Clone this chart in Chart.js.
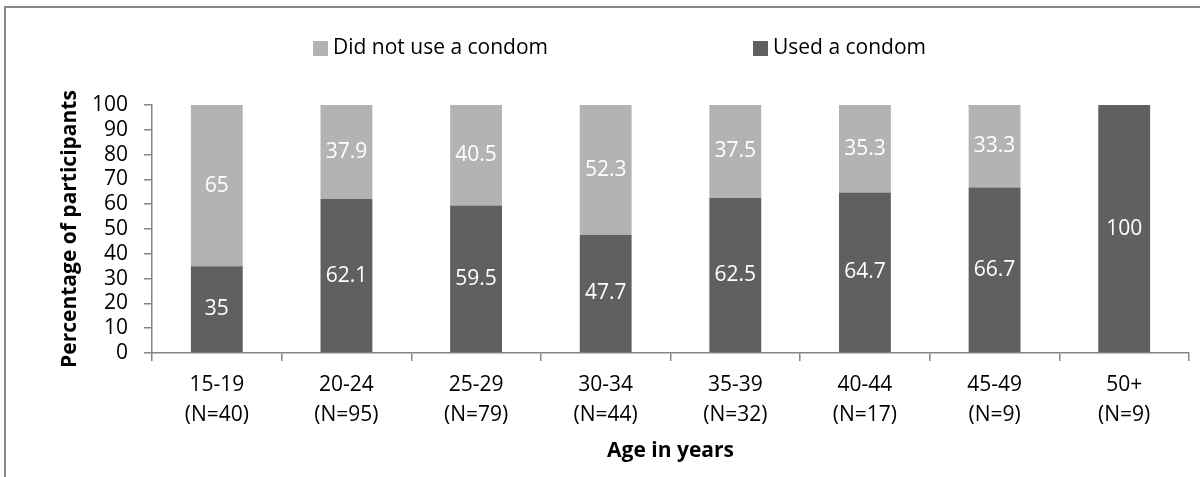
<!DOCTYPE html>
<html>
<head>
<meta charset="utf-8">
<script src="https://cdn.jsdelivr.net/npm/chart.js@4.4.1/dist/chart.umd.min.js"></script>
<style>
    html, body { margin: 0; padding: 0; background: #ffffff; overflow: hidden; }
    #wrap { position: relative; width: 1200px; height: 477px; }
    #frame {
        position: absolute; left: 4px; top: 6px;
        width: 1400px; height: 700px;
        border: 2px solid #868686;
    }
    #chart { position: absolute; left: 0; top: 0; }
</style>
</head>
<body>
<div id="wrap">
    <div id="frame"></div>
    <canvas id="chart" width="1200" height="477"></canvas>
</div>
<script>
// Chart data
const ageGroups = ['15-19', '20-24', '25-29', '30-34', '35-39', '40-44', '45-49', '50+'];
const sampleSizes = ['(N=40)', '(N=95)', '(N=79)', '(N=44)', '(N=32)', '(N=17)', '(N=9)', '(N=9)'];
const usedCondom = [35, 62.1, 59.5, 47.7, 62.5, 64.7, 66.7, 100];
const notUsedCondom = [65, 37.9, 40.5, 52.3, 37.5, 35.3, 33.3, 0];
const yTicks = [0, 10, 20, 30, 40, 50, 60, 70, 80, 90, 100];

const FONT = "'Open Sans', 'Noto Sans', sans-serif";
const FONT_SIZE = 21;
const AXIS_GREY = '#868686';

// Build two-line category labels
const categoryLabels = ageGroups.map((g, i) => [g, sampleSizes[i]]);

// Value labels drawn inside each bar segment
const barValueLabels = {
    id: 'barValueLabels',
    afterDatasetsDraw(chart) {
        const ctx = chart.ctx;
        ctx.save();
        ctx.font = FONT_SIZE + 'px ' + FONT;
        ctx.fillStyle = '#ffffff';
        ctx.textAlign = 'center';
        ctx.textBaseline = 'middle';
        chart.data.datasets.forEach((ds, di) => {
            const meta = chart.getDatasetMeta(di);
            meta.data.forEach((bar, i) => {
                const v = ds.data[i];
                if (!v) return;
                ctx.fillText(String(v), bar.x, (bar.y + bar.base) / 2);
            });
        });
        ctx.restore();
    }
};

// Legend drawn like the original (wide spacing between entries)
const wideLegend = {
    id: 'wideLegend',
    afterDraw(chart) {
        const ctx = chart.ctx;
        const startX = [313, 753];
        const centerY = 48.5;
        const items = chart.data.datasets.slice().reverse();
        ctx.save();
        ctx.font = FONT_SIZE + 'px ' + FONT;
        ctx.textBaseline = 'middle';
        ctx.textAlign = 'left';
        items.forEach((ds, i) => {
            ctx.fillStyle = ds.backgroundColor;
            ctx.fillRect(startX[i], centerY - 7.5, 15, 15);
            ctx.fillStyle = '#000000';
            ctx.fillText(ds.label, startX[i] + 20, centerY);
        });
        ctx.restore();
    }
};

const ctx = document.getElementById('chart');
new Chart(ctx, {
    type: 'bar',
    data: {
        labels: categoryLabels,
        datasets: [{
            label: 'Used a condom',
            data: usedCondom,
            backgroundColor: '#606060',
            categoryPercentage: 1,
            barPercentage: 0.4
        }, {
            label: 'Did not use a condom',
            data: notUsedCondom,
            backgroundColor: '#b3b3b3',
            categoryPercentage: 1,
            barPercentage: 0.4
        }]
    },
    options: {
        responsive: false,
        animation: false,
        layout: {
            padding: { top: 105, right: 11, bottom: 0, left: 0 }
        },
        scales: {
            x: {
                stacked: true,
                grid: {
                    offset: true,
                    drawOnChartArea: false,
                    drawTicks: true,
                    tickLength: 8,
                    color: AXIS_GREY,
                    lineWidth: 1.5
                },
                border: { color: AXIS_GREY, width: 1.5 },
                ticks: {
                    color: '#000000',
                    padding: 9,
                    maxRotation: 0,
                    autoSkip: false,
                    font: { family: FONT, size: FONT_SIZE, lineHeight: 30 / FONT_SIZE }
                },
                title: {
                    display: true,
                    text: 'Age in years',
                    color: '#000000',
                    font: { family: FONT, size: 21, weight: 'bold', lineHeight: 1.2 },
                    padding: { top: 0, bottom: 13 }
                },
                afterFit(scale) { scale.height = 124; }
            },
            y: {
                stacked: true,
                min: 0,
                max: 100,
                afterBuildTicks(scale) {
                    scale.ticks = yTicks.map(v => ({ value: v }));
                },
                grid: {
                    drawOnChartArea: false,
                    drawTicks: true,
                    tickLength: 8,
                    color: AXIS_GREY,
                    lineWidth: 1.5
                },
                border: { color: AXIS_GREY, width: 1.5 },
                ticks: {
                    color: '#000000',
                    padding: 16,
                    autoSkip: false,
                    font: { family: FONT, size: FONT_SIZE }
                },
                title: {
                    display: true,
                    text: 'Percentage of participants',
                    color: '#000000',
                    font: { family: FONT, size: 21, weight: 'bold', lineHeight: 1.2 },
                    padding: { top: 57, bottom: 0 }
                },
                afterFit(scale) { scale.width = 152; }
            }
        },
        plugins: {
            legend: { display: false },
            tooltip: { enabled: false }
        }
    },
    plugins: [barValueLabels, wideLegend]
});
</script>
</body>
</html>
